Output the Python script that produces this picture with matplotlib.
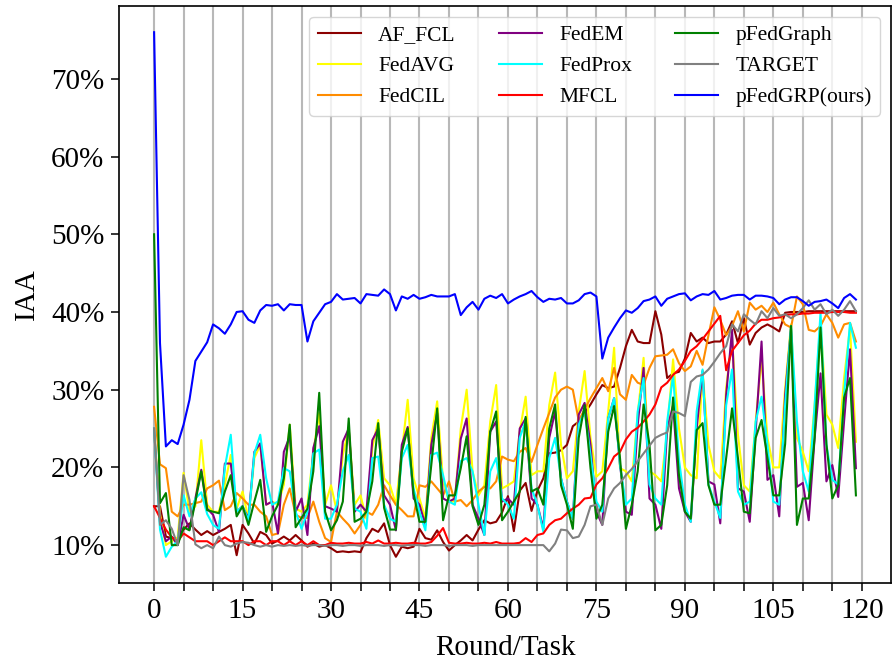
import numpy as np
import matplotlib
matplotlib.use('Agg')
import matplotlib.pyplot as plt
from matplotlib.ticker import PercentFormatter, FixedLocator

plt.rcParams['font.family'] = ['Liberation Serif', 'DejaVu Serif']

# accuracy per round (fraction)
af_fcl = [0.150, 0.150, 0.111, 0.109, 0.109, 0.120, 0.128, 0.120, 0.113, 0.118,
          0.113, 0.117, 0.121, 0.126, 0.087, 0.126, 0.115, 0.102, 0.117, 0.113,
          0.102, 0.106, 0.111, 0.106, 0.113, 0.106, 0.098, 0.102, 0.098, 0.100,
          0.096, 0.091, 0.092, 0.091, 0.092, 0.091, 0.109, 0.121, 0.117, 0.128,
          0.100, 0.085, 0.098, 0.096, 0.098, 0.121, 0.109, 0.107, 0.119, 0.104,
          0.093, 0.100, 0.106, 0.113, 0.106, 0.120, 0.132, 0.128, 0.130, 0.142,
          0.163, 0.118, 0.170, 0.180, 0.144, 0.170, 0.186, 0.218, 0.219, 0.222,
          0.229, 0.253, 0.259, 0.270, 0.281, 0.294, 0.306, 0.302, 0.304, 0.328,
          0.356, 0.377, 0.362, 0.360, 0.360, 0.401, 0.371, 0.315, 0.321, 0.323,
          0.340, 0.373, 0.362, 0.367, 0.360, 0.362, 0.362, 0.371, 0.388, 0.360,
          0.392, 0.358, 0.373, 0.380, 0.384, 0.380, 0.375, 0.399, 0.400, 0.400,
          0.400, 0.401, 0.401, 0.401, 0.401, 0.401, 0.401, 0.401, 0.401, 0.401]

fedavg = [0.250, 0.140, 0.100, 0.105, 0.110, 0.193, 0.143, 0.150, 0.235, 0.152,
          0.143, 0.143, 0.178, 0.216, 0.147, 0.169, 0.134, 0.212, 0.229, 0.152,
          0.156, 0.152, 0.178, 0.255, 0.147, 0.143, 0.152, 0.220, 0.270, 0.152,
          0.177, 0.143, 0.216, 0.250, 0.152, 0.164, 0.134, 0.225, 0.261, 0.186,
          0.177, 0.152, 0.220, 0.287, 0.186, 0.160, 0.134, 0.238, 0.285, 0.182,
          0.156, 0.156, 0.250, 0.300, 0.195, 0.164, 0.177, 0.259, 0.306, 0.173,
          0.177, 0.182, 0.246, 0.291, 0.190, 0.195, 0.195, 0.280, 0.322, 0.229,
          0.186, 0.195, 0.272, 0.324, 0.238, 0.188, 0.195, 0.272, 0.354, 0.199,
          0.195, 0.182, 0.268, 0.341, 0.195, 0.190, 0.182, 0.246, 0.339, 0.250,
          0.200, 0.190, 0.186, 0.324, 0.229, 0.195, 0.186, 0.302, 0.367, 0.242,
          0.177, 0.169, 0.259, 0.340, 0.238, 0.200, 0.200, 0.302, 0.384, 0.238,
          0.220, 0.195, 0.280, 0.388, 0.268, 0.255, 0.225, 0.315, 0.380, 0.233]

fedcil = [0.278, 0.204, 0.199, 0.143, 0.137, 0.152, 0.152, 0.154, 0.156, 0.173,
          0.177, 0.183, 0.145, 0.150, 0.167, 0.160, 0.152, 0.152, 0.143, 0.137,
          0.113, 0.115, 0.152, 0.173, 0.139, 0.135, 0.135, 0.156, 0.130, 0.109,
          0.104, 0.143, 0.134, 0.126, 0.115, 0.126, 0.143, 0.139, 0.152, 0.177,
          0.164, 0.152, 0.145, 0.137, 0.137, 0.177, 0.175, 0.182, 0.173, 0.164,
          0.182, 0.156, 0.158, 0.150, 0.158, 0.169, 0.175, 0.173, 0.182, 0.214,
          0.210, 0.208, 0.220, 0.225, 0.207, 0.229, 0.250, 0.270, 0.290, 0.300,
          0.304, 0.300, 0.260, 0.275, 0.289, 0.302, 0.315, 0.298, 0.328, 0.294,
          0.287, 0.319, 0.309, 0.306, 0.328, 0.343, 0.344, 0.345, 0.352, 0.334,
          0.324, 0.330, 0.350, 0.332, 0.370, 0.406, 0.390, 0.370, 0.382, 0.401,
          0.375, 0.412, 0.403, 0.408, 0.400, 0.412, 0.397, 0.384, 0.380, 0.420,
          0.410, 0.377, 0.375, 0.382, 0.397, 0.386, 0.367, 0.384, 0.386, 0.362]

fedem = [0.250, 0.130, 0.105, 0.111, 0.100, 0.139, 0.120, 0.160, 0.197, 0.147,
         0.139, 0.117, 0.205, 0.205, 0.143, 0.150, 0.134, 0.220, 0.231, 0.152,
         0.156, 0.115, 0.220, 0.240, 0.143, 0.160, 0.113, 0.225, 0.253, 0.150,
         0.147, 0.143, 0.233, 0.250, 0.143, 0.152, 0.143, 0.235, 0.250, 0.164,
         0.152, 0.119, 0.229, 0.252, 0.160, 0.152, 0.126, 0.229, 0.270, 0.160,
         0.156, 0.160, 0.237, 0.263, 0.152, 0.134, 0.113, 0.246, 0.259, 0.156,
         0.160, 0.152, 0.250, 0.263, 0.160, 0.152, 0.121, 0.238, 0.272, 0.186,
         0.156, 0.134, 0.268, 0.283, 0.229, 0.143, 0.126, 0.263, 0.289, 0.203,
         0.143, 0.139, 0.255, 0.328, 0.160, 0.152, 0.121, 0.250, 0.280, 0.173,
         0.143, 0.130, 0.250, 0.324, 0.182, 0.178, 0.128, 0.293, 0.377, 0.173,
         0.169, 0.130, 0.246, 0.362, 0.184, 0.190, 0.137, 0.293, 0.380, 0.175,
         0.180, 0.132, 0.238, 0.321, 0.182, 0.203, 0.162, 0.260, 0.352, 0.199]

fedprox = [0.250, 0.120, 0.085, 0.098, 0.105, 0.164, 0.137, 0.160, 0.168, 0.140,
           0.126, 0.121, 0.200, 0.242, 0.143, 0.150, 0.132, 0.218, 0.242, 0.186,
           0.152, 0.156, 0.199, 0.195, 0.143, 0.121, 0.143, 0.218, 0.223, 0.134,
           0.134, 0.152, 0.195, 0.216, 0.147, 0.143, 0.121, 0.212, 0.214, 0.152,
           0.134, 0.130, 0.212, 0.229, 0.173, 0.143, 0.119, 0.216, 0.219, 0.190,
           0.156, 0.152, 0.208, 0.212, 0.195, 0.152, 0.113, 0.195, 0.212, 0.160,
           0.152, 0.134, 0.238, 0.260, 0.173, 0.152, 0.117, 0.212, 0.238, 0.186,
           0.156, 0.134, 0.255, 0.272, 0.216, 0.156, 0.143, 0.263, 0.289, 0.203,
           0.152, 0.160, 0.272, 0.315, 0.178, 0.160, 0.152, 0.259, 0.319, 0.210,
           0.152, 0.130, 0.272, 0.326, 0.178, 0.156, 0.135, 0.280, 0.326, 0.169,
           0.152, 0.156, 0.259, 0.291, 0.229, 0.156, 0.152, 0.280, 0.382, 0.259,
           0.195, 0.169, 0.280, 0.399, 0.229, 0.184, 0.178, 0.294, 0.386, 0.354]

mfcl = [0.150, 0.135, 0.120, 0.110, 0.105, 0.115, 0.110, 0.105, 0.105, 0.105,
        0.100, 0.105, 0.110, 0.105, 0.105, 0.105, 0.100, 0.105, 0.105, 0.100,
        0.105, 0.105, 0.100, 0.105, 0.100, 0.105, 0.100, 0.105, 0.100, 0.100,
        0.103, 0.102, 0.102, 0.103, 0.102, 0.102, 0.104, 0.102, 0.106, 0.102,
        0.102, 0.103, 0.102, 0.102, 0.103, 0.102, 0.102, 0.104, 0.112, 0.122,
        0.103, 0.102, 0.102, 0.103, 0.102, 0.102, 0.103, 0.102, 0.104, 0.102,
        0.102, 0.102, 0.103, 0.109, 0.104, 0.113, 0.115, 0.126, 0.132, 0.134,
        0.141, 0.147, 0.152, 0.160, 0.161, 0.178, 0.186, 0.199, 0.214, 0.220,
        0.236, 0.246, 0.251, 0.259, 0.268, 0.281, 0.303, 0.309, 0.319, 0.326,
        0.337, 0.350, 0.356, 0.365, 0.375, 0.385, 0.395, 0.325, 0.350, 0.360,
        0.370, 0.376, 0.385, 0.390, 0.390, 0.392, 0.393, 0.396, 0.397, 0.397,
        0.398, 0.398, 0.399, 0.399, 0.399, 0.400, 0.400, 0.400, 0.399, 0.399]

pfedgraph = [0.500, 0.154, 0.167, 0.100, 0.100, 0.123, 0.119, 0.156, 0.195, 0.145,
             0.143, 0.141, 0.169, 0.190, 0.137, 0.150, 0.126, 0.156, 0.184, 0.117,
             0.137, 0.152, 0.186, 0.255, 0.123, 0.135, 0.147, 0.195, 0.296, 0.143,
             0.119, 0.132, 0.156, 0.263, 0.130, 0.134, 0.143, 0.182, 0.257, 0.148,
             0.120, 0.120, 0.220, 0.250, 0.166, 0.130, 0.130, 0.203, 0.276, 0.132,
             0.164, 0.164, 0.199, 0.240, 0.150, 0.126, 0.152, 0.246, 0.272, 0.132,
             0.143, 0.156, 0.169, 0.265, 0.169, 0.173, 0.152, 0.250, 0.281, 0.177,
             0.152, 0.121, 0.238, 0.280, 0.199, 0.134, 0.152, 0.246, 0.279, 0.212,
             0.121, 0.152, 0.195, 0.281, 0.229, 0.119, 0.126, 0.177, 0.290, 0.190,
             0.143, 0.134, 0.248, 0.257, 0.177, 0.152, 0.152, 0.212, 0.276, 0.212,
             0.143, 0.141, 0.238, 0.261, 0.212, 0.164, 0.164, 0.230, 0.382, 0.126,
             0.160, 0.160, 0.238, 0.380, 0.230, 0.160, 0.177, 0.290, 0.315, 0.164]

target = [0.250, 0.126, 0.132, 0.121, 0.100, 0.190, 0.158, 0.101, 0.096, 0.100,
          0.096, 0.111, 0.100, 0.098, 0.102, 0.104, 0.103, 0.100, 0.098, 0.100,
          0.098, 0.100, 0.099, 0.100, 0.099, 0.100, 0.099, 0.100, 0.100, 0.099,
          0.100, 0.100, 0.099, 0.100, 0.100, 0.099, 0.100, 0.100, 0.100, 0.099,
          0.100, 0.100, 0.099, 0.100, 0.100, 0.100, 0.099, 0.100, 0.100, 0.100,
          0.099, 0.100, 0.100, 0.100, 0.099, 0.100, 0.100, 0.100, 0.100, 0.100,
          0.100, 0.100, 0.100, 0.100, 0.100, 0.100, 0.100, 0.092, 0.102, 0.120,
          0.119, 0.109, 0.111, 0.126, 0.150, 0.152, 0.126, 0.160, 0.173, 0.180,
          0.190, 0.198, 0.208, 0.218, 0.228, 0.238, 0.242, 0.245, 0.272, 0.270,
          0.266, 0.310, 0.317, 0.319, 0.326, 0.336, 0.347, 0.356, 0.384, 0.375,
          0.397, 0.390, 0.384, 0.401, 0.392, 0.405, 0.395, 0.397, 0.392, 0.397,
          0.405, 0.415, 0.403, 0.410, 0.397, 0.403, 0.395, 0.403, 0.414, 0.401]

pfedgrp = [0.760, 0.360, 0.227, 0.235, 0.230, 0.255, 0.287, 0.337, 0.349, 0.361,
           0.384, 0.379, 0.372, 0.384, 0.400, 0.401, 0.390, 0.386, 0.402, 0.409,
           0.408, 0.410, 0.402, 0.410, 0.409, 0.409, 0.362, 0.388, 0.399, 0.410,
           0.413, 0.423, 0.416, 0.417, 0.418, 0.411, 0.423, 0.422, 0.421, 0.429,
           0.423, 0.402, 0.420, 0.417, 0.422, 0.417, 0.419, 0.422, 0.420, 0.420,
           0.420, 0.423, 0.396, 0.406, 0.413, 0.403, 0.417, 0.421, 0.418, 0.423,
           0.411, 0.416, 0.420, 0.423, 0.427, 0.419, 0.413, 0.417, 0.416, 0.418,
           0.411, 0.411, 0.415, 0.423, 0.425, 0.420, 0.340, 0.367, 0.380, 0.392,
           0.402, 0.399, 0.405, 0.414, 0.416, 0.420, 0.408, 0.417, 0.420, 0.423,
           0.424, 0.415, 0.420, 0.423, 0.422, 0.427, 0.416, 0.418, 0.421, 0.422,
           0.422, 0.416, 0.421, 0.421, 0.420, 0.418, 0.410, 0.416, 0.419, 0.419,
           0.414, 0.408, 0.413, 0.414, 0.416, 0.411, 0.405, 0.418, 0.423, 0.416]

methods = ['AF_FCL', 'FedAVG', 'FedCIL', 'FedEM', 'FedProx', 'MFCL',
           'pFedGraph', 'TARGET', 'pFedGRP(ours)']
series = [af_fcl, fedavg, fedcil, fedem, fedprox, mfcl, pfedgraph, target, pfedgrp]
colors = ['darkred', 'yellow', 'darkorange', 'purple', 'cyan', 'red',
          'green', 'gray', 'blue']

fig = plt.figure(figsize=(8.93, 6.64), dpi=100)
ax = fig.add_axes([119 / 893, 81 / 664, 772 / 893, 577 / 664])

for name, vals, c in zip(methods, series, colors):
    ax.plot(np.arange(len(vals)), vals, color=c, linewidth=1.5, label=name)

# ticks every 5 rounds, labels every 15
ticks = list(range(0, 121, 5))
ax.xaxis.set_major_locator(FixedLocator(ticks))
ax.set_xticklabels([str(t) if t % 15 == 0 else '' for t in ticks])
ax.grid(axis='x', color='#b8b8b8', linewidth=1.5)
ax.set_axisbelow(True)
ax.yaxis.set_major_formatter(PercentFormatter(xmax=1, decimals=0))

ax.tick_params(labelsize=21, length=5.5, width=1.1, pad=5)
for s in ax.spines.values():
    s.set_linewidth(1.2)

ax.set_xlabel('Round/Task', fontsize=21, labelpad=8)
ax.set_ylabel('IAA', fontsize=21, labelpad=8)
ax.legend(loc='upper right', ncol=3, fontsize=15.5)

fig.savefig('out.png', dpi=100)
